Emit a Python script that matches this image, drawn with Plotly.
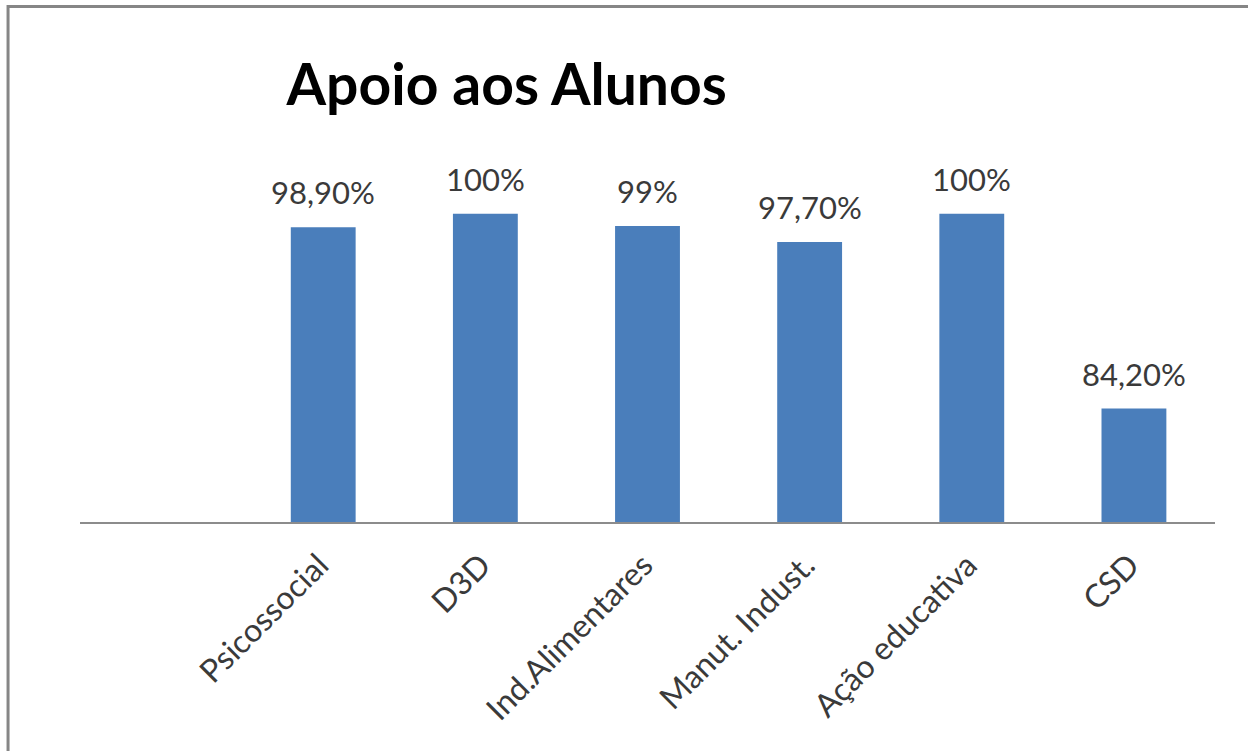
import plotly.graph_objects as go

categories = ["Psicossocial", "D3D", "Ind.Alimentares", "Manut. Indust.", "Ação educativa", "CSD"]
values = [0.989, 1.00, 0.99, 0.977, 1.00, 0.842]
value_labels = ["98,90%", "100%", "99%", "97,70%", "100%", "84,20%"]
positions = [1, 2, 3, 4, 5, 6]

BAR = "#4a7ebb"
TXT = "#3a3a3a"
FONT = "Lato"

fig = go.Figure()
fig.add_trace(go.Bar(
    x=positions, y=values, width=0.4,
    marker=dict(color=BAR, line=dict(width=0)),
    hoverinfo="skip", showlegend=False,
))

for xv, yv, lab in zip(positions, values, value_labels):
    fig.add_annotation(x=xv, y=yv, text=lab, showarrow=False,
                       yanchor="bottom", yshift=14,
                       font=dict(family=FONT, size=31, color=TXT))

fig.add_shape(type="rect", xref="paper", yref="paper",
              x0=-0.0634, x1=1.2, y0=-0.8, y1=1.393,
              line=dict(color="#868686", width=3), fillcolor="rgba(0,0,0,0)")

fig.update_layout(
    width=1248, height=751,
    margin=dict(l=80, r=33, t=152, b=229),
    paper_bgcolor="white", plot_bgcolor="white",
    title=dict(text="<b>Apoio aos Alunos</b>", x=0.406, xanchor="center",
               y=1 - 85 / 751, yanchor="middle",
               font=dict(family=FONT, size=57, color="black")),
    xaxis=dict(range=[-0.5, 6.5], tickvals=positions, ticktext=categories,
               tickangle=-45, showgrid=False, zeroline=False,
               showline=True, linecolor="#8c8c8c", linewidth=1.5,
               ticks="", ticklabelstandoff=10, ticklabelshift=-4,
               tickfont=dict(family=FONT, size=32, color=TXT)),
    yaxis=dict(range=[0.75, 1.05], visible=False, showgrid=False),
)

fig.write_html("out.html", config={"displayModeBar": False},
               post_script="document.body.style.margin='0';document.body.style.overflow='hidden';")
